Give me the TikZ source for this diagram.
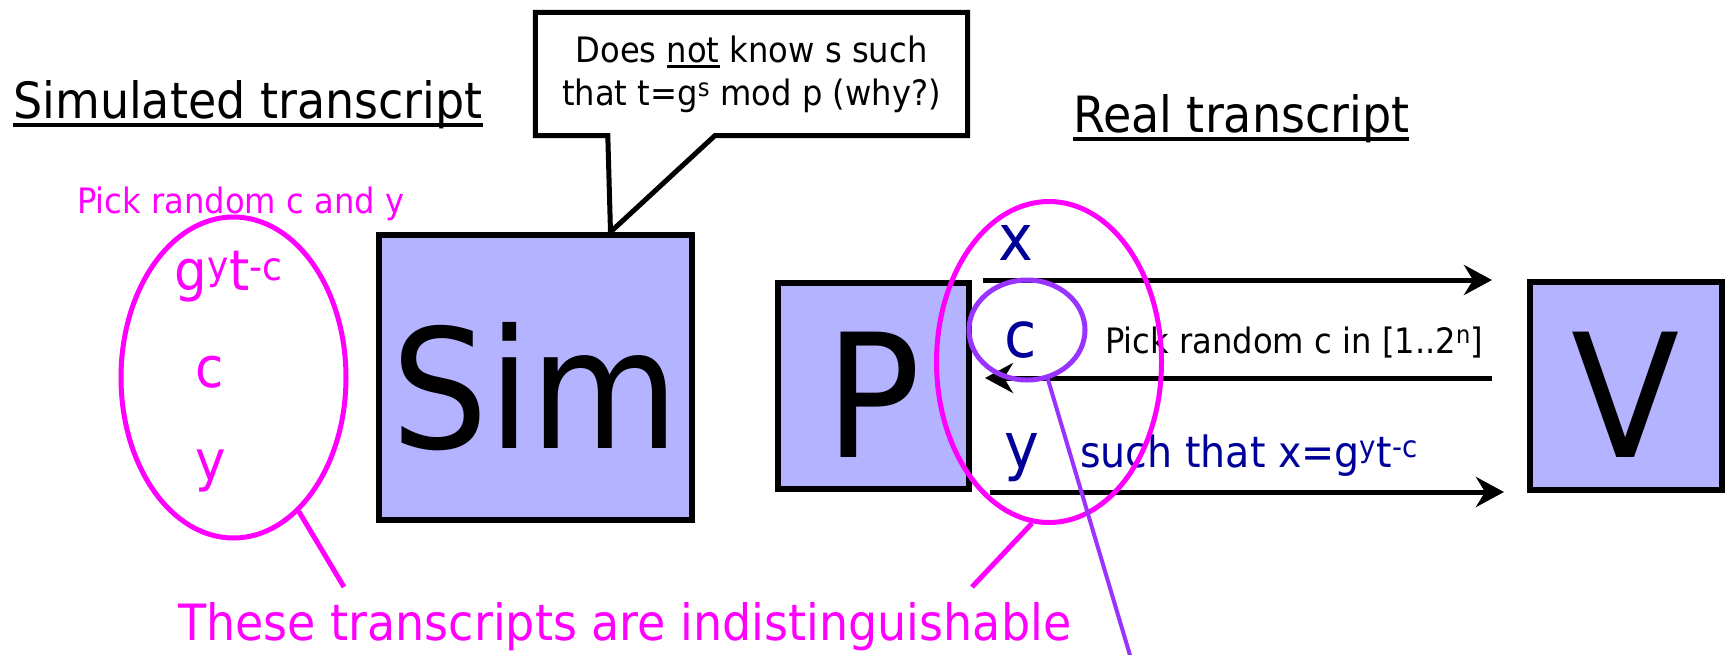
\documentclass[tikz,border=0pt]{standalone}
\usepackage{fontspec}
\setmainfont{DejaVu Sans}[FakeStretch=0.92]
\usetikzlibrary{shapes.geometric,arrows.meta}
\definecolor{boxfill}{HTML}{B3B3FF}
\definecolor{msgblue}{HTML}{000099}
\definecolor{ringpurple}{HTML}{9933FF}
\definecolor{pink}{RGB}{255,0,255}
\newcommand{\ulbar}[3]{\setbox0=\hbox{#3}\rlap{\rule[-#1]{\wd0}{#2}}\box0\relax}
\tikzset{
  party/.style={draw,line width=6pt,fill=boxfill,minimum width=191pt,minimum height=206pt,
    inner sep=0pt,text height=142pt,text depth=0pt,font=\fontsize{172}{172}\selectfont},
  msg/.style={line width=5pt,-{Stealth[length=28pt,width=30pt,inset=9pt]}},
  group/.style={draw=pink,line width=5pt,ellipse,minimum width=225pt,minimum height=321pt,inner sep=0pt},
  word/.style={inner sep=0pt,anchor=base},
  heading/.style={word,anchor=base west,font=\fontsize{50}{60}\selectfont},
  small/.style={font=\fontsize{35}{43}\selectfont},
  entry/.style={word,font=\fontsize{64}{64}\selectfont}
}
\begin{document}
\begin{tikzpicture}[x=1pt,y=-1pt]
  \useasboundingbox (0,0) rectangle (1730,654);
  % headings
  \node[heading] (simt) at (13,118) {\ulbar{8.75pt}{3.5pt}{Simulated transcript}};
  \node[heading] (realt) at (1073,132) {\ulbar{8.75pt}{3.5pt}{Real transcript}};
  % simulator, prover and verifier
  \node[party,minimum width=313pt,minimum height=285pt,font=\fontsize{166}{166}\selectfont] (sim) at (535.5,377.5) {Sim};
  \node[party] (P) at (873.5,386) {P};
  \node[party,minimum width=192pt,minimum height=208pt] (V) at (1626,386) {V};
  % speech bubble pointing at Sim
  \node[small,minimum width=432pt,minimum height=123pt,inner sep=0pt,align=center] (note) at (751.5,74)
    {Does \ulbar{6pt}{2.7pt}{not} know s such\\that t=g\textsuperscript{s} mod p (why?)};
  \coordinate (tip) at ([xshift=75pt]sim.north);
  \draw[line width=5pt] (note.south west) -- (note.north west) -- (note.north east) -- (note.south east)
     -- ([xshift=179.5pt]note.south west) -- (tip) -- ([xshift=72.5pt]note.south west) -- cycle;
  % real run: P and V exchange x, c, y
  \draw[msg,shorten <=11pt,shorten >=35pt] (P.north east) -- (P.north east -| V.west);
  \draw[msg,shorten <=35pt,shorten >=13pt] ([yshift=8pt]V.west) -- ([yshift=8pt]P.east);
  \draw[msg,shorten <=18pt,shorten >=23pt] (P.south east) -- (P.south east -| V.west);
  \node[entry,text=msgblue] (xmsg) at (1016,260) {x};
  \node[entry,text=msgblue] (cmsg) at (1021,357) {c};
  \node[entry,text=msgblue] (ymsg) at (1022,468) {y};
  \node[word,small,anchor=base west] (vpick) at (1105,353) {Pick random c in [1..2\textsuperscript{n}]};
  \node[word,anchor=base west,text=msgblue,font=\fontsize{43}{50}\selectfont] (ysuch) at (1080,467)
    {such that x=g\textsuperscript{y}t\textsuperscript{-c}};
  % simulated run: Sim picks c and y first
  \node[word,small,anchor=base west,text=pink] (simpick) at (77,213) {Pick random c and y};
  \node[word,text=pink,font=\fontsize{56}{56}\selectfont] (sg) at (229,290) {g\textsuperscript{y}t\textsuperscript{-c}};
  \node[word,text=pink,font=\fontsize{56}{56}\selectfont] (sc) at (210,387) {c};
  \node[word,text=pink,font=\fontsize{56}{56}\selectfont] (sy) at (211,480) {y};
  % the two transcripts
  \node[group] (lt) at (233.5,377.5) {};
  \node[group] (rt) at (1049,362) {};
  \node[draw=ringpurple,line width=5pt,ellipse,minimum width=116pt,minimum height=100pt,inner sep=0pt] (cring) at (1027,330) {};
  \node[heading,text=pink] (indist) at (178,640) {These transcripts are indistinguishable};
  \coordinate (lfoot) at (344,587);
  \coordinate (rfoot) at (972,587);
  \coordinate (cfoot) at (1132,662);
  \draw[pink,line width=5pt] (lt.-64) -- (lfoot);
  \draw[pink,line width=5pt] (rt.-96) -- (rfoot);
  \draw[ringpurple,line width=4pt] (cring.-67) -- (cfoot);
\end{tikzpicture}
\end{document}
